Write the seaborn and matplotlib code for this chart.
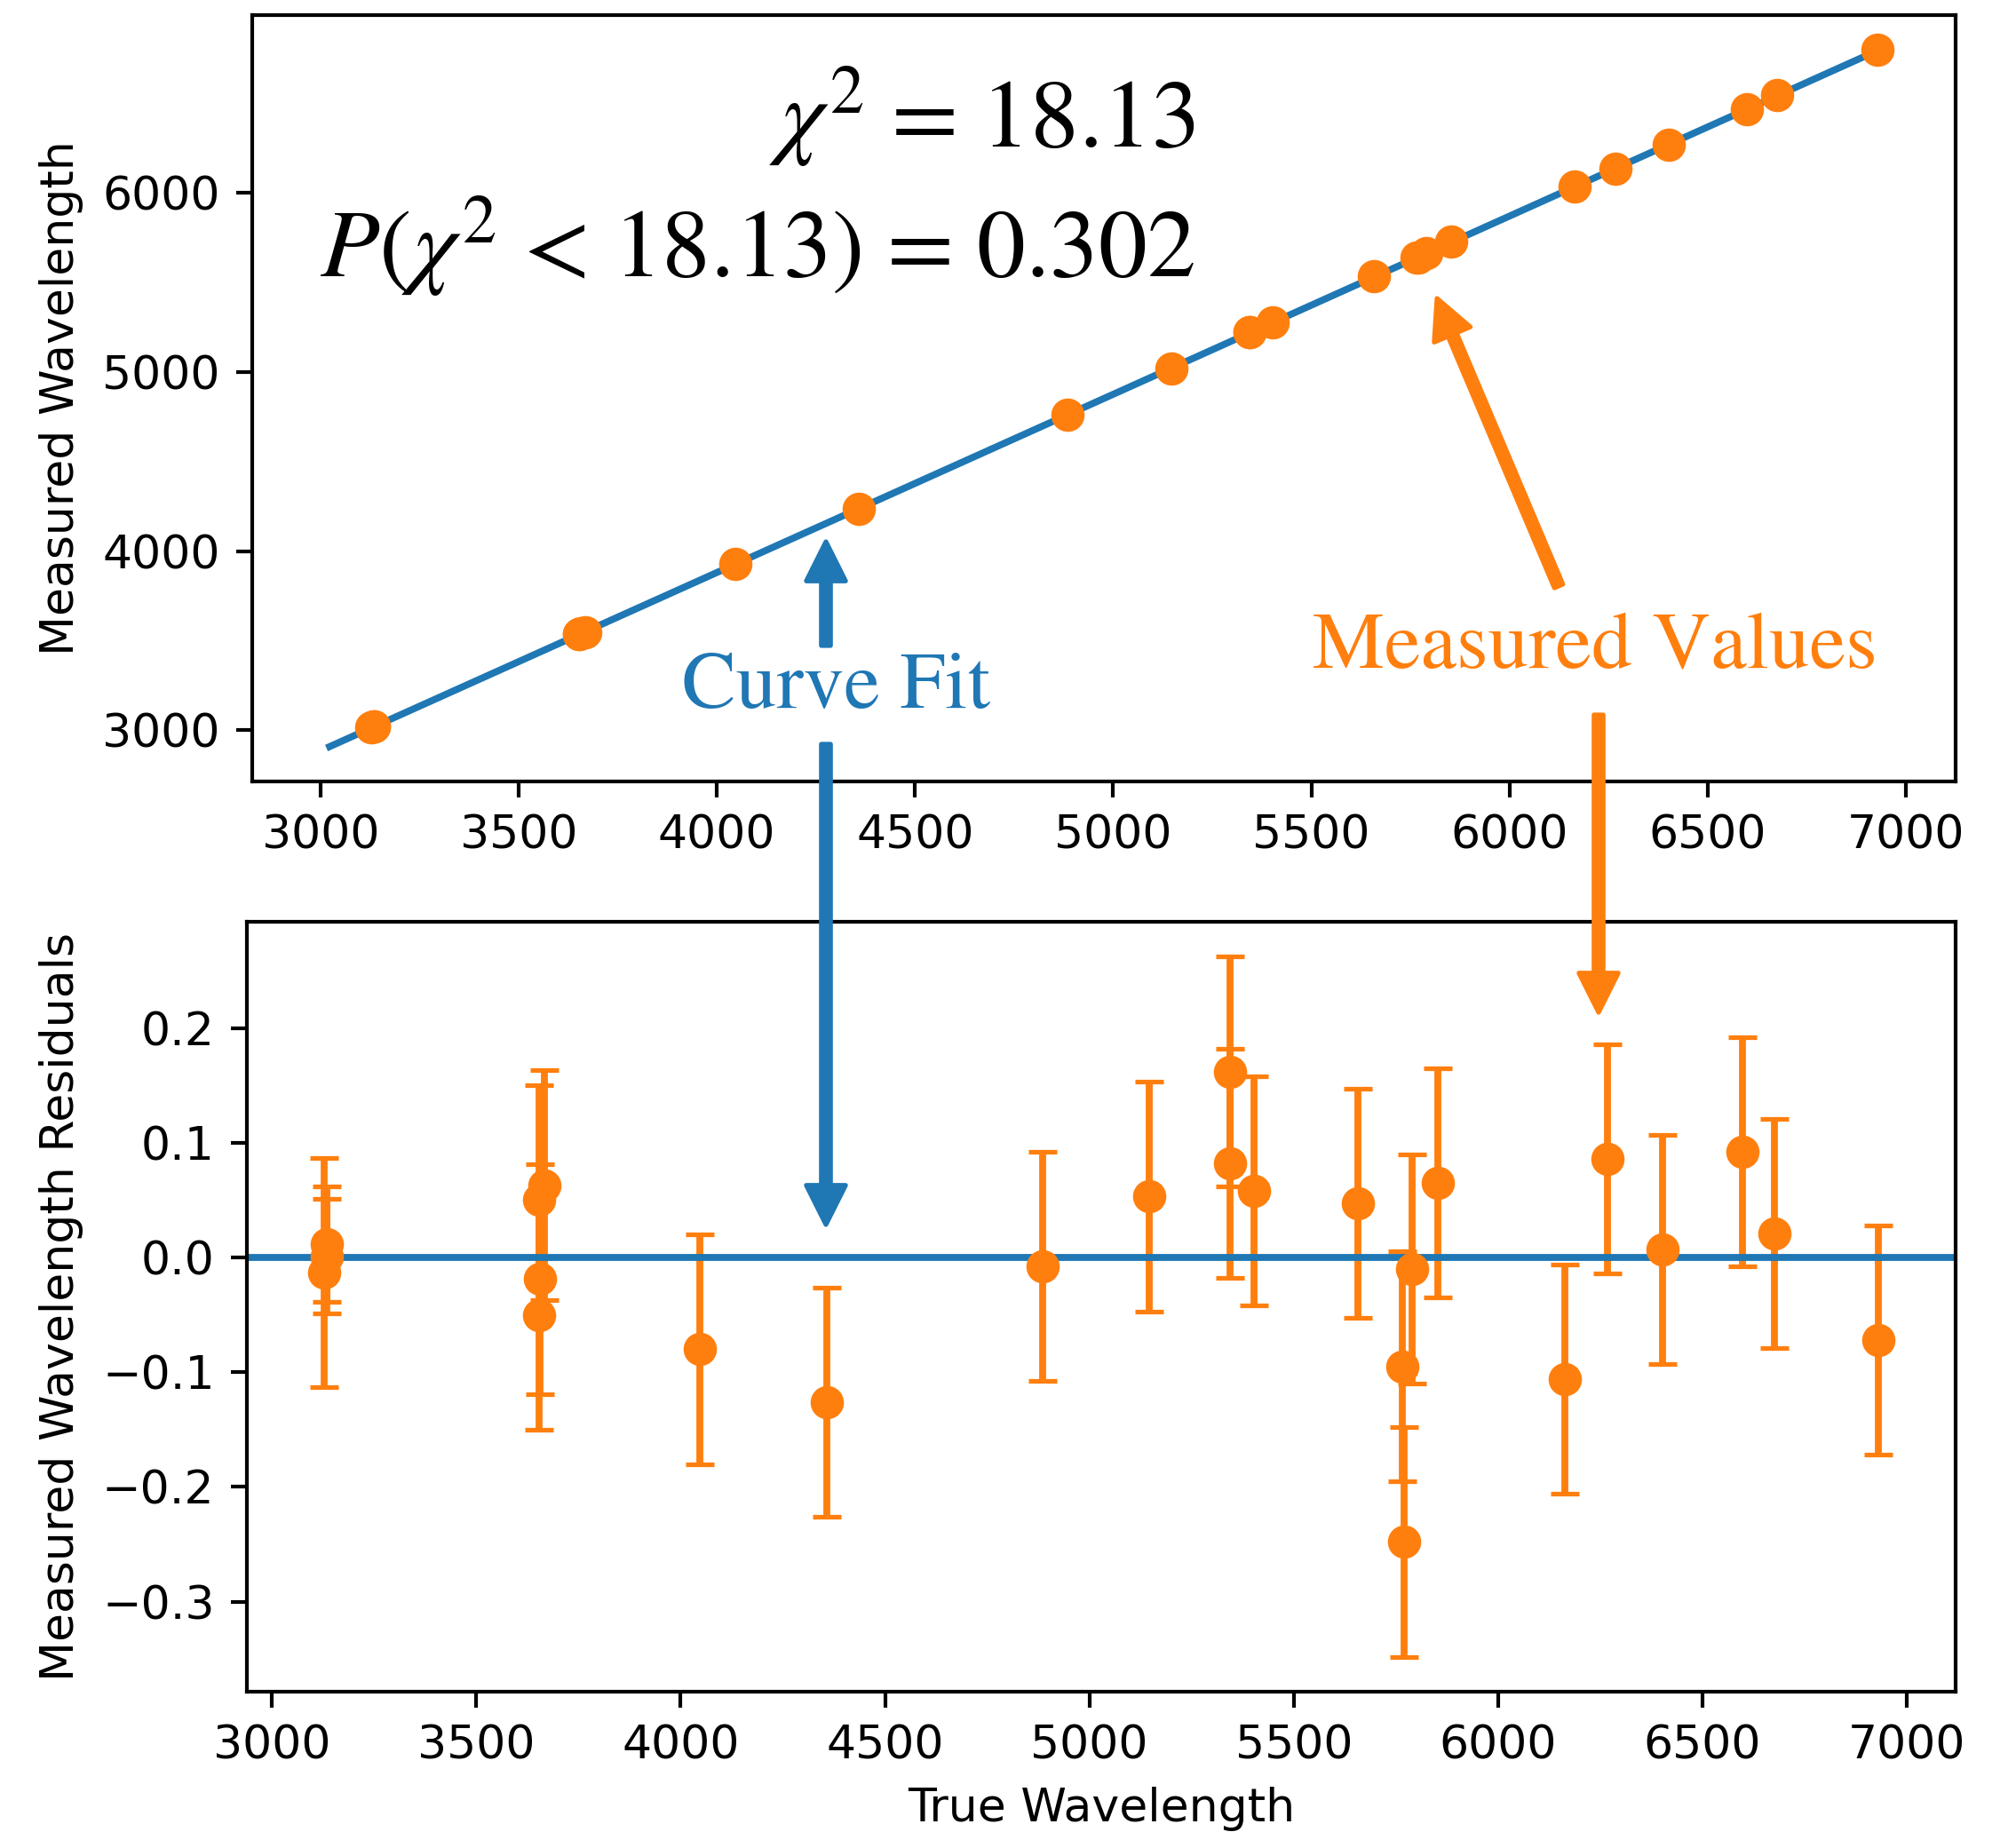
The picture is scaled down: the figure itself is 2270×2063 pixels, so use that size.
import numpy as np
import pandas as pd
import matplotlib.pyplot as plt
import seaborn as sns
from matplotlib.text import Annotation

# true vs measured wavelengths, residuals of the linear fit
true_wl = [3129, 3135, 3135, 3653, 3653, 3657, 3667, 4046, 4357, 4885,
           5146, 5343, 5343, 5402, 5657, 5765, 5770, 5790, 5852, 6163,
           6267, 6402, 6598, 6676, 6929]
measured_wl = [3014, 3019, 3019, 3536, 3536, 3539, 3546, 3929, 4236, 4764,
               5021, 5221, 5221, 5279, 5536, 5638, 5642, 5664, 5729, 6036,
               6138, 6272, 6471, 6550, 6800]
residuals = [-0.013, 0.0116, 0.001, 0.050, -0.050, -0.019, 0.063, -0.080, -0.126, -0.008,
             0.053, 0.162, 0.082, 0.058, 0.047, -0.095, -0.248, -0.010, 0.065, -0.106,
             0.086, 0.007, 0.092, 0.021, -0.072]
resid_err = [0.1, 0.05, 0.05, 0.1, 0.1, 0.1, 0.1, 0.1, 0.1, 0.1,
             0.1, 0.1, 0.1, 0.1, 0.1, 0.1, 0.1, 0.1, 0.1, 0.1,
             0.1, 0.1, 0.1, 0.1, 0.1]
fit_x = [3023, 6930]
fit_y = [2907, 6798]

# a bit of extra room around the relation signs (LaTeX-like spacing)
sp = r"\hspace{0.13}"
chi2_text = r"$\chi^2" + sp + "=" + sp + "18.13$"
prob_text = r"$P(\chi^2" + sp + "<" + sp + "18.13)" + sp + "=" + sp + "0.302$"

plt.rcParams["mathtext.fontset"] = "stix"

W, H, DPI = 2270, 2063, 375
fig = plt.figure(figsize=(W / DPI, H / DPI), dpi=DPI)
ax1 = fig.add_axes([284 / W, 1 - 880 / H, (2202 - 284) / W, (880 - 17) / H])
ax2 = fig.add_axes([278 / W, 1 - 1905 / H, (2202 - 278) / W, (1905 - 1038) / H])

# top panel: fit line + measured points
sns.lineplot(x=fit_x, y=fit_y, ax=ax1, color="C0", linewidth=1.5)
sns.scatterplot(x=true_wl, y=measured_wl, ax=ax1, color="C1", s=52,
                linewidth=0, zorder=3)
ax1.set_ylabel("Measured Wavelength")

# bottom panel: residuals with error bars
ax2.errorbar(true_wl, residuals, yerr=resid_err, fmt="none", ecolor="C1",
             elinewidth=1.5, capsize=3)
ax2.axhline(0, color="C0", linewidth=1.5)
sns.scatterplot(x=true_wl, y=residuals, ax=ax2, color="C1", s=52,
                linewidth=0, zorder=3)
ax2.set_ylabel("Measured Wavelength Residuals")
ax2.set_xlabel("True Wavelength")

# stats text
fig.text(1345 / W, 1 - 166 / H, chi2_text, ha="right", va="baseline", fontsize=21)
fig.text(1345 / W, 1 - 312 / H, prob_text, ha="right", va="baseline", fontsize=21)

# labels with arrows (figure pixel positions, measured from top)
fig.text(942 / W, 1 - 797 / H, "Curve Fit", ha="center", va="baseline",
         fontsize=17.5, family="STIXGeneral", color="C0")
fig.text(1796 / W, 1 - 752 / H, "Measured Values", ha="center", va="baseline",
         fontsize=17.5, family="STIXGeneral", color="C1")


def arrow(tail, tip, color):
    props = dict(color=color, width=2, headwidth=8.5, headlength=8.5, shrink=0)
    a = Annotation("", xy=(tip[0] / W, 1 - tip[1] / H), xycoords="figure fraction",
                   xytext=(tail[0] / W, 1 - tail[1] / H), textcoords="figure fraction",
                   arrowprops=props)
    a.set_zorder(5)
    fig.add_artist(a)


arrow((930, 727), (930, 610), "C0")
arrow((930, 838), (930, 1379), "C0")
arrow((1755, 660), (1618, 336), "C1")
arrow((1800, 805), (1800, 1140), "C1")

fig.savefig("out.png", dpi=DPI)
